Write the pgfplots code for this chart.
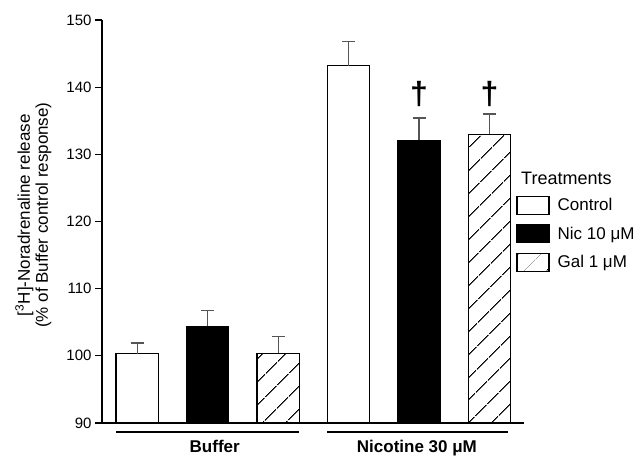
\documentclass[border=0pt]{standalone}
\usepackage{fontspec}
\setmainfont{Liberation Sans}
\usepackage{pgfplots}
\pgfplotsset{compat=1.18}
\usetikzlibrary{patterns.meta}
\definecolor{errgray}{HTML}{555555}
\begin{document}
\begin{tikzpicture}
\begin{axis}[
  name=ax,
  scale only axis, width=422pt, height=403pt,
  xmin=-0.5, xmax=5.49, ymin=90, ymax=150,
  ytick={90,100,...,150},
  xtick=\empty,
  axis x line*=bottom, axis y line*=left,
  axis line style={line width=1.1pt,-},
  tick align=outside, major tick length=7pt,
  tick style={line width=1.1pt, black},
  ticklabel style={font=\fontsize{15}{18}\selectfont},
  /pgf/number format/assume math mode=true,
  clip=false,
  ylabel={[\textsuperscript{3}H]-Noradrenaline release\\(\% of Buffer control response)},
  ylabel style={at={(axis cs:-1.475,120.95)}, anchor=center, align=center, font=\fontsize{17}{18}\selectfont},
  legend image code/.code={\draw[#1] (0pt,-9pt) rectangle (32pt,9pt);},
  legend cell align=left,
  legend style={at={(axis cs:5.38,123.9)}, anchor=north west, draw=none, fill=none, inner sep=0pt,
    row sep=9.5pt, font=\fontsize{17}{20}\selectfont, nodes={inner sep=2pt}},
  /tikz/every odd column/.append style={column sep=6pt},
  mybar/.style={ybar, bar width=0.6, bar shift=0pt, draw=black, line width=1.2pt,
    error bars/y dir=plus, error bars/y explicit,
    error bars/error bar style={line width=1.2pt, errgray},
    error bars/error mark options={rotate=90, mark size=6.5pt, line width=1.2pt, errgray}},
]
\addplot[mybar, fill=white] coordinates {(0,100.3) +- (0,1.6) (3,143.2) +- (0,3.6)};
\addlegendentry{Control}
\addplot[mybar, fill=black] coordinates {(1,104.4) +- (0,2.3) (4,132.1) +- (0,3.3)};
\addlegendentry{Nic 10 μM}
\addplot[mybar, fill=white, postaction={pattern={Lines[angle=45,distance=17pt,line width=1.1pt]}}] coordinates {(2,100.4) +- (0,2.5) (5,133.0) +- (0,3.0)};
\addlegendentry{Gal 1 μM}
\node[anchor=base west, font=\fontsize{18}{20}\selectfont] at (axis cs:5.40,125.5) {Treatments};
\node[font=\fontsize{32}{32}\selectfont\bfseries] at (axis cs:4,139.0) {†};
\node[font=\fontsize{32}{32}\selectfont\bfseries] at (axis cs:5,139.0) {†};
\draw[line width=2pt] (axis cs:-0.3,88.66) -- (axis cs:2.3,88.66);
\draw[line width=2pt] (axis cs:2.7,88.66) -- (axis cs:5.27,88.66);
\node[anchor=base, font=\fontsize{17}{20}\selectfont\bfseries] at (axis cs:1.1,85.68) {Buffer};
\node[anchor=base, font=\fontsize{17}{20}\selectfont\bfseries] at (axis cs:3.97,85.68) {Nicotine 30 μM};
\end{axis}
\pgfresetboundingbox
\path[use as bounding box] ([xshift=-102pt,yshift=-33pt]ax.south west) rectangle ++(638pt,456pt);
\end{tikzpicture}
\end{document}
